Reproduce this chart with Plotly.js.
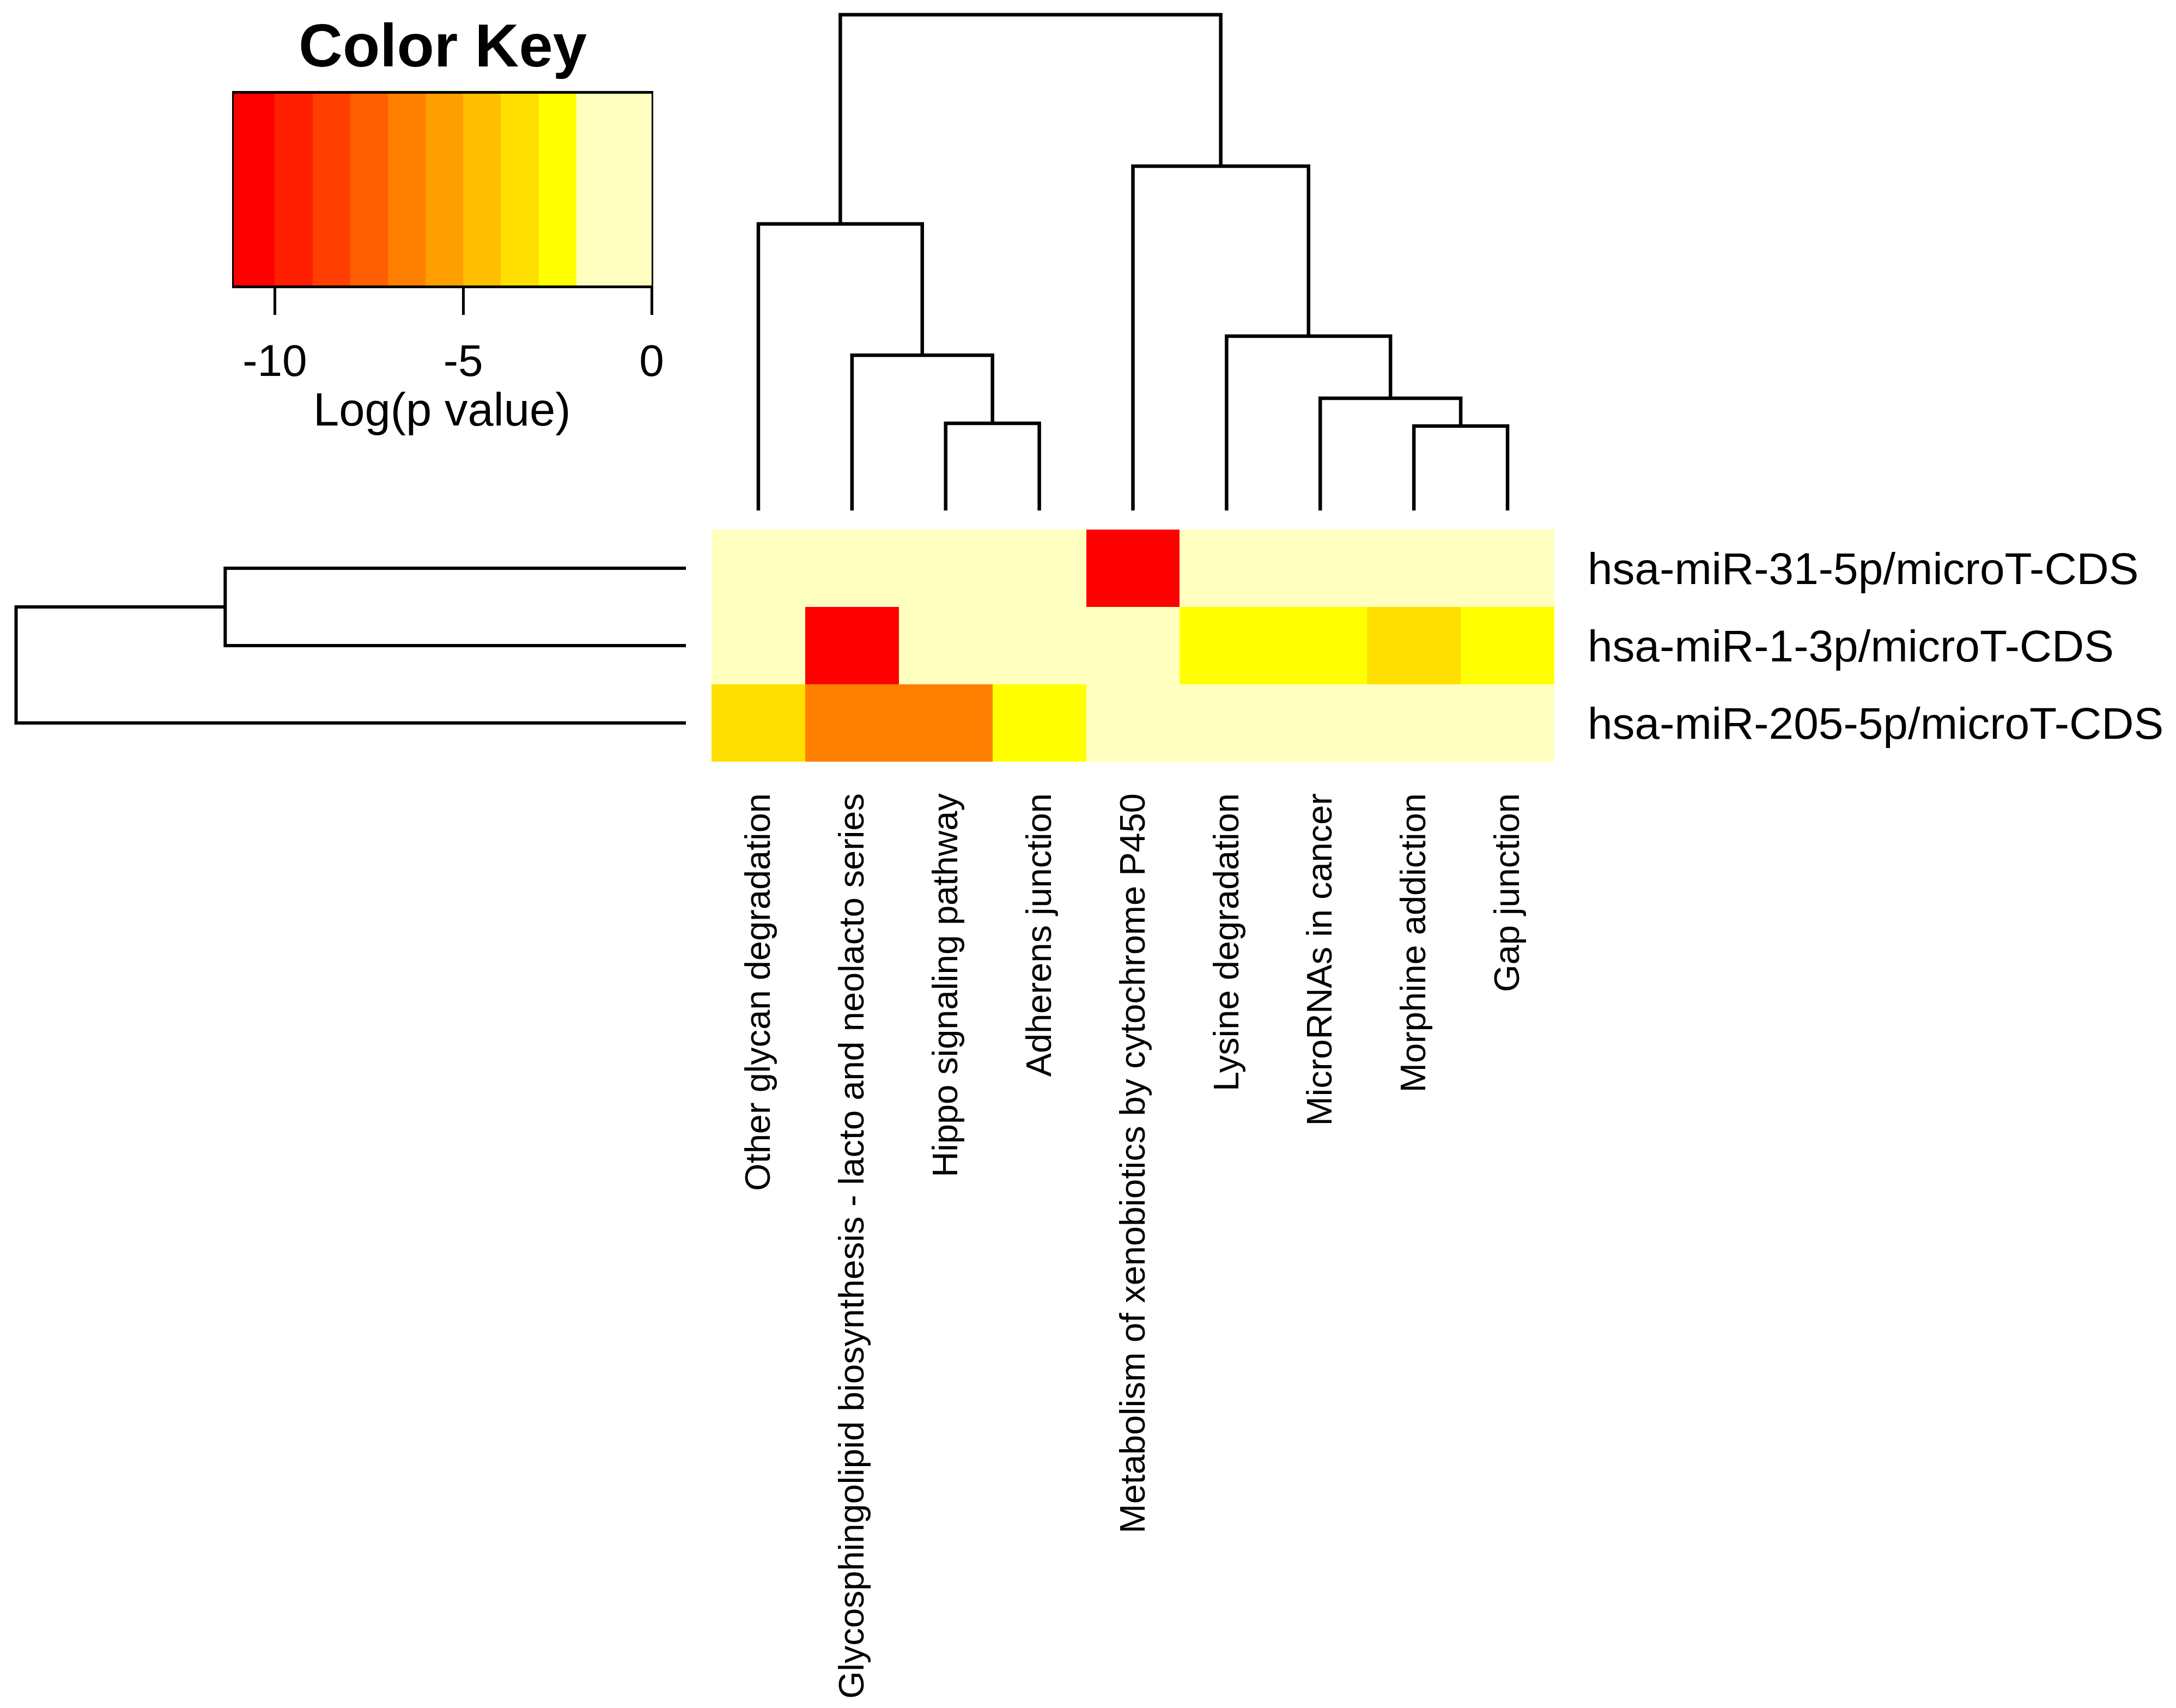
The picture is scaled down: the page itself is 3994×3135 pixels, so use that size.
<!DOCTYPE html>
<html>
<head>
<meta charset="utf-8">
<script src="https://cdn.plot.ly/plotly-3.0.1.min.js"></script>
<style>
  html, body { margin: 0; padding: 0; background: #ffffff; }
  #chart { width: 3994px; height: 3135px; }
</style>
</head>
<body>
<div id="chart"></div>
<script>
// ---------------- data ----------------
const colLabels = [
  "Other glycan degradation",
  "Glycosphingolipid biosynthesis - lacto and neolacto series",
  "Hippo signaling pathway",
  "Adherens junction",
  "Metabolism of xenobiotics by cytochrome P450",
  "Lysine degradation",
  "MicroRNAs in cancer",
  "Morphine addiction",
  "Gap junction"
];
const rowLabels = [
  "hsa-miR-31-5p/microT-CDS",
  "hsa-miR-1-3p/microT-CDS",
  "hsa-miR-205-5p/microT-CDS"
];
// log(p value), rows top -> bottom, columns left -> right
const logP_miR31  = [0, 0, 0, 0, -10.9, 0, 0, 0, 0];
const logP_miR1   = [0, -10.6, 0, 0, 0, -2.6, -2.4, -3.5, -2.6];
const logP_miR205 = [-3.4, -6.6, -6.5, -2.6, 0, 0, 0, 0, 0];

// colour key breaks and colours
const keyBreaks = [-11.09, -10, -9, -8, -7, -6, -5, -4, -3, -2, 0];
const keyColors = ["#FF0000", "#FF1F00", "#FF3F00", "#FF5F00", "#FF7F00",
                   "#FF9F00", "#FFBF00", "#FFDF00", "#FFFF00", "#FFFFC0"];
const keyTicks = [-10, -5, 0];
const keyTickText = ["-10", "-5", "0"];

// column dendrogram (R hclust style merge: negative = leaf in display order)
const colMerge   = [[-3, -4], [-2, 1], [-1, 2], [-8, -9], [-7, 4], [-6, 5], [-5, 6], [3, 7]];
const colHeights = [1.60, 2.85, 5.26, 1.55, 2.06, 3.20, 6.32, 9.10];
// row dendrogram
const rowMerge   = [[-1, -2], [-3, 1]];
const rowHeights = [8.46, 12.30];

// ---------------- helpers ----------------
function dendro(merge, heights) {
  const pos = [], hs = [], P = [];
  function child(c) {
    if (c < 0) return [-c - 1, 0];
    return [P[c - 1], heights[c - 1]];
  }
  merge.forEach((m, j) => {
    const a = child(m[0]), b = child(m[1]);
    const h = heights[j];
    P[j] = (a[0] + b[0]) / 2;
    pos.push(a[0], a[0], b[0], b[0], null);
    hs.push(a[1], h, h, b[1], null);
  });
  return { pos, hs };
}

const z = [logP_miR31, logP_miR1, logP_miR205];
const zmin = keyBreaks[0], zmax = keyBreaks[keyBreaks.length - 1];
const colorscale = [];
keyColors.forEach((c, i) => {
  colorscale.push([(keyBreaks[i] - zmin) / (zmax - zmin), c]);
  colorscale.push([(keyBreaks[i + 1] - zmin) / (zmax - zmin), c]);
});

const W = 3994, Hh = 3135;
const px = v => v / W;
const py = v => 1 - v / Hh;

const colD = dendro(colMerge, colHeights);
const rowD = dendro(rowMerge, rowHeights);
const colIdx = colLabels.map((_, i) => i);
const rowIdx = rowLabels.map((_, i) => i);

const keyMids = keyColors.map((_, i) => (keyBreaks[i] + keyBreaks[i + 1]) / 2);

const FONT = "Liberation Sans, Arial, Helvetica, sans-serif";

const traces = [
  {
    type: "heatmap", z: z, x: colIdx, y: rowIdx,
    xaxis: "x", yaxis: "y",
    colorscale: colorscale, zmin: zmin, zmax: zmax,
    showscale: false, hoverinfo: "skip"
  },
  {
    type: "scatter", mode: "lines", x: colD.pos, y: colD.hs,
    xaxis: "x2", yaxis: "y2",
    line: { color: "#000000", width: 6.5 }, connectgaps: false,
    hoverinfo: "skip", showlegend: false
  },
  {
    type: "scatter", mode: "lines", x: rowD.hs, y: rowD.pos,
    xaxis: "x3", yaxis: "y3",
    line: { color: "#000000", width: 6 }, connectgaps: false,
    hoverinfo: "skip", showlegend: false
  },
  {
    type: "heatmap", z: [keyMids], x: keyBreaks, y: [0, 1],
    xaxis: "x4", yaxis: "y4",
    colorscale: colorscale, zmin: zmin, zmax: zmax,
    showscale: false, hoverinfo: "skip"
  }
];

const hmX = [px(1306), px(2853)];
const hmY = [py(1398), py(972)];

const layout = {
  width: W, height: Hh,
  margin: { l: 0, r: 0, t: 0, b: 0, pad: 0 },
  paper_bgcolor: "#ffffff", plot_bgcolor: "#ffffff",
  font: { family: FONT, color: "#000000" },
  showlegend: false,
  xaxis: {
    domain: hmX, range: [-0.5, colLabels.length - 0.5],
    tickvals: colIdx, ticktext: colLabels, tickangle: -90,
    tickfont: { size: 65, family: FONT, color: "#000" },
    ticks: "", ticklabelstandoff: 44,
    showgrid: false, zeroline: false, showline: false, anchor: "y", fixedrange: true
  },
  yaxis: {
    domain: hmY, range: [rowLabels.length - 0.5, -0.5],
    tickvals: rowIdx, ticktext: rowLabels, side: "right",
    tickfont: { size: 82, family: FONT, color: "#000" },
    ticks: "", ticklabelstandoff: 60,
    showgrid: false, zeroline: false, showline: false, anchor: "x", fixedrange: true
  },
  xaxis2: {
    domain: hmX, range: [-0.5, colLabels.length - 0.5],
    visible: false, anchor: "y2"
  },
  yaxis2: {
    domain: [py(937), py(10)], range: [0, colHeights[colHeights.length - 1] * 927 / 910],
    visible: false, anchor: "x2"
  },
  xaxis3: {
    domain: [px(10), px(1259)], range: [rowHeights[rowHeights.length - 1] * 1249 / 1229.5, 0],
    visible: false, anchor: "y3"
  },
  yaxis3: {
    domain: hmY, range: [rowLabels.length - 0.5, -0.5],
    visible: false, anchor: "x3"
  },
  xaxis4: {
    domain: [px(429), px(1196)], range: [zmin, zmax],
    tickvals: keyTicks, ticktext: keyTickText,
    ticks: "outside", ticklen: 49, tickwidth: 5, tickcolor: "#000",
    tickfont: { size: 82, family: FONT, color: "#000" }, ticklabelstandoff: 14,
    showline: true, linewidth: 5, linecolor: "#000", mirror: true,
    showgrid: false, zeroline: false, anchor: "y4", fixedrange: true
  },
  yaxis4: {
    domain: [py(524), py(172)], range: [0, 1],
    showticklabels: false, ticks: "",
    showline: true, linewidth: 3, linecolor: "#000", mirror: true,
    showgrid: false, zeroline: false, anchor: "x4", fixedrange: true
  },
  annotations: [
    {
      text: "<b>Color Key</b>", xref: "paper", yref: "paper",
      x: px(812), y: py(84), xanchor: "center", yanchor: "middle",
      showarrow: false, font: { size: 112, family: FONT, color: "#000" }
    },
    {
      text: "Log(p value)", xref: "paper", yref: "paper",
      x: px(811), y: py(752), xanchor: "center", yanchor: "middle",
      showarrow: false, font: { size: 85, family: FONT, color: "#000" }
    }
  ]
};

Plotly.newPlot("chart", traces, layout, { staticPlot: true, displayModeBar: false });
</script>
</body>
</html>
